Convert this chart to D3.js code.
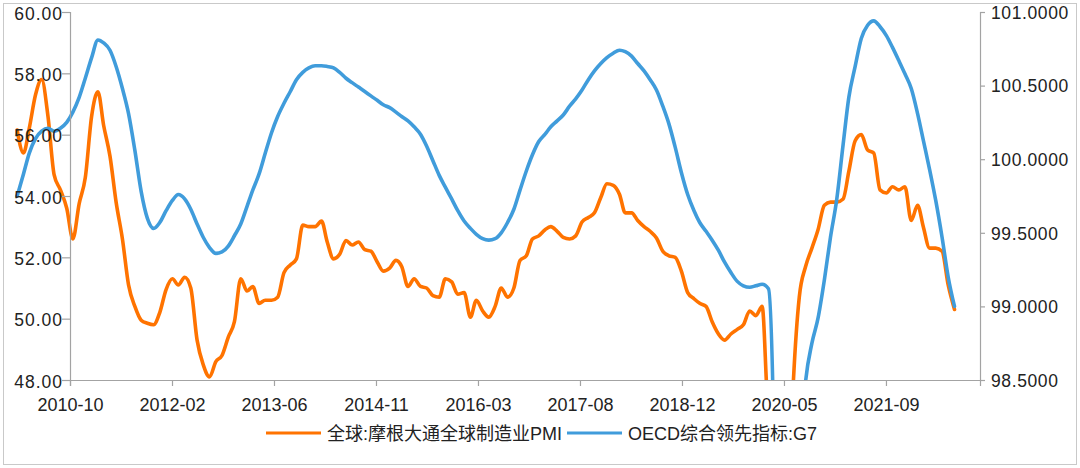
<!DOCTYPE html>
<html><head><meta charset="utf-8">
<script src="https://cdn.jsdelivr.net/npm/d3@7"></script>
<style>html,body{margin:0;padding:0;background:#fff}svg{display:block}</style>
</head><body>
<svg id="chart" width="1080" height="468"></svg>
<script>
// ---------- data ----------
const firstMonth = "2010-01";          // monthly series, mid-month
const seriesNames = ["全球:摩根大通全球制造业PMI", "OECD综合领先指标:G7"];
const pmi = [
  56.15,55.4,56.2,57.3,57.8,56.6,54.7,54.2,53.6,52.6,53.75,54.6,
  56.6,57.4,56.3,55.3,53.8,52.6,51.1,50.4,49.95,49.85,49.8,50.2,
  50.95,51.3,51.1,51.35,51.0,49.3,48.5,48.1,48.6,48.8,49.4,49.9,
  51.3,50.9,51.05,50.5,50.6,50.6,50.7,51.5,51.75,51.95,53.05,53.0,
  53.0,53.18,52.5,51.95,52.1,52.55,52.4,52.5,52.25,52.2,51.85,51.55,
  51.65,51.9,51.7,51.05,51.3,51.05,51.0,50.75,50.7,51.3,51.2,50.8,
  50.85,50.05,50.6,50.25,50.05,50.4,51.0,50.7,51.0,51.9,52.05,52.6,
  52.7,52.9,53.0,52.85,52.65,52.6,52.7,53.15,53.3,53.45,53.95,54.4,
  54.35,54.05,53.45,53.45,53.2,53.0,52.85,52.63,52.2,52.05,52.0,51.55,
  50.85,50.65,50.5,50.4,49.9,49.5,49.3,49.5,49.65,49.8,50.25,50.1,
  50.4,47.1,47.3,39.6,42.4,47.8,50.7,51.7,52.3,52.9,53.7,53.8,
  53.8,53.9,54.8,55.8,56.0,55.5,55.4,54.2,54.1,54.3,54.2,54.3,
  53.2,53.7,53.0,52.3,52.3,52.2,51.1,50.3
];
const cli = [
  99.75,99.90,100.04,100.14,100.19,100.21,100.19,100.21,100.25,100.32,100.42,100.55,
  100.69,100.81,100.79,100.74,100.63,100.48,100.31,100.06,99.78,99.60,99.53,99.57,
  99.65,99.72,99.76,99.73,99.66,99.56,99.47,99.40,99.36,99.37,99.41,99.48,
  99.56,99.68,99.79,99.90,100.04,100.18,100.29,100.38,100.46,100.54,100.59,100.62,
  100.635,100.635,100.63,100.62,100.59,100.55,100.52,100.49,100.46,100.43,100.40,100.37,
  100.35,100.32,100.29,100.26,100.22,100.17,100.09,99.99,99.89,99.81,99.73,99.65,
  99.58,99.53,99.49,99.46,99.45,99.46,99.50,99.57,99.66,99.79,99.92,100.03,
  100.12,100.17,100.22,100.26,100.30,100.36,100.41,100.47,100.54,100.60,100.65,100.69,
  100.72,100.74,100.73,100.70,100.65,100.60,100.54,100.47,100.36,100.24,100.08,99.91,
  99.76,99.65,99.57,99.51,99.45,99.38,99.30,99.23,99.17,99.14,99.13,99.14,
  99.15,99.12,97.9,93.5,94.5,96.6,97.9,98.49,98.75,98.92,99.18,99.47,
  99.73,100.1,100.42,100.63,100.82,100.91,100.94,100.90,100.84,100.76,100.67,100.58,
  100.48,100.31,100.13,99.93,99.72,99.47,99.2,99.0
];
const xTickLabels = ["2010-10","2012-02","2013-06","2014-11","2016-03","2017-08","2018-12","2020-05","2021-09"];
const leftTicks = [48,50,52,54,56,58,60];
const rightTicks = [98.5,99,99.5,100,100.5,101];
const colors = ["#FF7300", "#409CDB"];

// ---------- layout ----------
const L = 70, R = 980, T = 12, B = 380;
const axisColor = "#A3A3A3", textColor = "#222";
const svg = d3.select("#chart");

svg.append("rect").attr("x",3.5).attr("y",3.5).attr("width",1073).attr("height",461)
  .attr("fill","none").attr("stroke","#C9C9C9").attr("stroke-width",1);

const [fy, fm] = firstMonth.split("-").map(Number);
const dates = pmi.map((_, i) => new Date(fy, fm - 1 + i, 15));

const axisStart = new Date(2010, 9, 1);
const tickDates = xTickLabels.map((_, i) => d3.timeDay.offset(axisStart, 500 * i));
const x = d3.scaleTime()
  .domain([axisStart, d3.timeDay.offset(axisStart, 4461)])
  .range([L, R]);
const yL = d3.scaleLinear().domain([48, 60]).range([B, T]);
const yR = d3.scaleLinear().domain([98.5, 101]).range([B, T]);

// clip vertically only (lines may extend left of the axis as in the reference)
svg.append("clipPath").attr("id","clipv").append("rect")
  .attr("x",0).attr("y",T-6).attr("width",R).attr("height",B-T+6);

const lineL = d3.line().x((d,i)=>x(dates[i])).y(d=>yL(d)).curve(d3.curveMonotoneX);
const lineR = d3.line().x((d,i)=>x(dates[i])).y(d=>yR(d)).curve(d3.curveMonotoneX);

const g = svg.append("g").attr("clip-path","url(#clipv)");
g.append("path").datum(pmi).attr("d",lineL).attr("fill","none")
  .attr("stroke",colors[0]).attr("stroke-width",3.6).attr("stroke-linejoin","round").attr("stroke-linecap","round");
g.append("path").datum(cli).attr("d",lineR).attr("fill","none")
  .attr("stroke",colors[1]).attr("stroke-width",3.6).attr("stroke-linejoin","round").attr("stroke-linecap","round");

// ---------- axes ----------
function styleAxis(sel){
  sel.selectAll("path.domain").attr("stroke",axisColor).attr("stroke-width",1.2);
  sel.selectAll(".tick line").attr("stroke",axisColor).attr("stroke-width",1.2);
  sel.selectAll(".tick text").attr("fill",textColor)
     .attr("font-family","'Liberation Sans', Arial, Helvetica, sans-serif");
}
const gx = svg.append("g").attr("transform",`translate(0,${B})`)
  .call(d3.axisBottom(x).tickValues(tickDates).tickFormat((d,i)=>xTickLabels[i]).tickSizeOuter(0).tickSize(6).tickPadding(12));
styleAxis(gx);
gx.selectAll(".tick text").attr("font-size","18px").attr("dy","0.71em");

const gl = svg.append("g").attr("transform",`translate(${L},0)`)
  .call(d3.axisLeft(yL).tickValues(leftTicks).tickFormat(d3.format(".2f")).tickSizeOuter(0).tickSize(8).tickPadding(0));
styleAxis(gl);
gl.selectAll(".tick text").attr("font-size","17.5px").attr("letter-spacing","1px").attr("dy","0.4em").attr("x",-7);

const gr = svg.append("g").attr("transform",`translate(${R},0)`)
  .call(d3.axisRight(yR).tickValues(rightTicks).tickFormat(d3.format(".4f")).tickSizeOuter(0).tickSize(5).tickPadding(6));
styleAxis(gr);
gr.selectAll(".tick text").attr("font-size","17.5px").attr("letter-spacing","0.6px").attr("dy","0.36em");

// ---------- legend ----------
const legend = svg.append("g").attr("font-family","'Liberation Sans', 'Noto Sans CJK SC', sans-serif").attr("font-size","18px");
const legendItems = [{x:266, name:seriesNames[0], c:colors[0]}, {x:567, name:seriesNames[1], c:colors[1]}];
legendItems.forEach(it=>{
  legend.append("line").attr("x1",it.x).attr("x2",it.x+55).attr("y1",433).attr("y2",433)
    .attr("stroke",it.c).attr("stroke-width",3.2);
  legend.append("text").attr("x",it.x+61).attr("y",439.5).attr("fill",textColor).text(it.name);
});
</script>
</body></html>
